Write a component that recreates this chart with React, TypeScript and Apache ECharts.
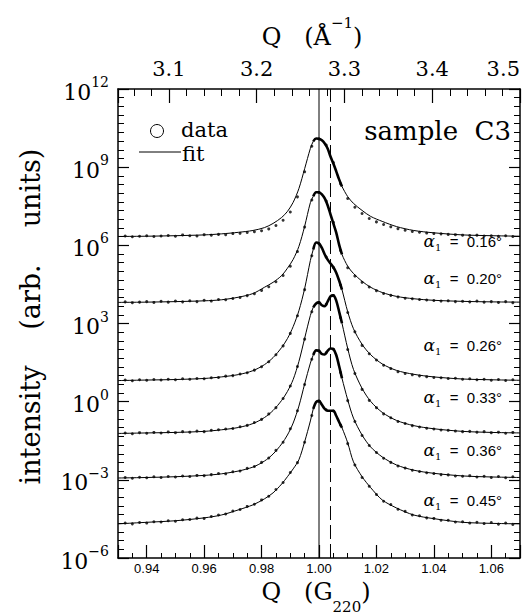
import React, { useEffect, useRef } from "react";
import * as echarts from "echarts";

// Q in units of G220 (bottom axis) for the fit curves
const qFit = [0.930, 0.940, 0.950, 0.960, 0.966, 0.972, 0.977, 0.981, 0.984, 0.987, 0.989, 0.991, 0.993, 0.995, 0.997, 0.998, 0.999, 1.000, 1.001, 1.002, 1.003, 1.004, 1.005, 1.006, 1.007, 1.008, 1.010, 1.012, 1.015, 1.018, 1.022, 1.027, 1.033, 1.040, 1.050, 1.060, 1.070];

// fit curves, log10(intensity)
const fit016 = [6.34, 6.35, 6.37, 6.40, 6.44, 6.50, 6.57, 6.68, 6.84, 7.07, 7.30, 7.65, 8.18, 8.94, 9.72, 9.99, 10.10, 10.09, 10.03, 9.91, 9.72, 9.41, 9.14, 8.84, 8.53, 8.26, 7.87, 7.61, 7.34, 7.11, 6.92, 6.72, 6.57, 6.48, 6.40, 6.37, 6.35];
const fit020 = [3.81, 3.82, 3.84, 3.87, 3.91, 4.01, 4.15, 4.39, 4.58, 4.84, 5.12, 5.46, 5.96, 6.73, 7.64, 7.88, 8.04, 8.04, 7.96, 7.80, 7.54, 7.19, 6.84, 6.49, 6.03, 5.65, 5.20, 4.92, 4.62, 4.39, 4.19, 4.04, 3.95, 3.89, 3.85, 3.83, 3.82];
const fit026 = [0.81, 0.83, 0.85, 0.89, 0.95, 1.04, 1.19, 1.42, 1.69, 2.08, 2.42, 2.88, 3.49, 4.34, 5.42, 5.84, 6.11, 6.07, 5.90, 5.65, 5.45, 5.30, 5.16, 4.95, 4.65, 4.30, 3.45, 2.80, 2.20, 1.80, 1.45, 1.20, 1.05, 0.95, 0.87, 0.84, 0.82];
const fit033 = [-1.22, -1.20, -1.18, -1.14, -1.08, -0.99, -0.84, -0.61, -0.34, 0.05, 0.39, 0.85, 1.54, 2.43, 3.31, 3.62, 3.77, 3.81, 3.70, 3.66, 3.84, 4.04, 4.08, 3.88, 3.46, 3.01, 2.04, 1.24, 0.51, 0.01, -0.41, -0.72, -0.92, -1.04, -1.14, -1.18, -1.20];
const fit036 = [-2.93, -2.91, -2.88, -2.83, -2.77, -2.66, -2.51, -2.28, -2.01, -1.62, -1.28, -0.82, -0.17, 0.68, 1.48, 1.79, 1.97, 1.95, 1.83, 1.81, 1.95, 2.04, 2.02, 1.79, 1.37, 0.90, 0.07, -0.63, -1.28, -1.74, -2.12, -2.43, -2.63, -2.75, -2.85, -2.89, -2.91];
const fit045 = [-4.69, -4.63, -4.57, -4.46, -4.35, -4.15, -3.96, -3.73, -3.50, -3.16, -2.88, -2.58, -2.23, -1.54, -0.74, -0.28, -0.01, 0.03, -0.12, -0.28, -0.35, -0.35, -0.35, -0.54, -0.78, -1.00, -1.58, -2.31, -2.88, -3.30, -3.77, -4.08, -4.35, -4.49, -4.63, -4.67, -4.69];

// measured data points (Q in G220, log10 intensity)
const qData = [0.9325, 0.935, 0.9375, 0.940, 0.9425, 0.945, 0.9475, 0.950, 0.9525, 0.955, 0.9575, 0.960, 0.9625, 0.965, 0.9675, 0.970, 0.9725, 0.975, 0.9775, 0.980, 0.9825, 0.985, 0.9875, 0.990, 0.9925, 0.995, 0.9975, 1.000, 1.0025, 1.005, 1.0075, 1.010, 1.0125, 1.015, 1.0175, 1.020, 1.0225, 1.025, 1.0275, 1.030, 1.0325, 1.035, 1.0375, 1.040, 1.0425, 1.045, 1.0475, 1.050, 1.0525, 1.055, 1.0575, 1.060, 1.0625, 1.065, 1.0675];
const data016 = [6.36, 6.33, 6.35, 6.37, 6.34, 6.36, 6.38, 6.35, 6.40, 6.37, 6.36, 6.41, 6.39, 6.42, 6.41, 6.45, 6.46, 6.49, 6.52, 6.56, 6.63, 6.76, 6.96, 7.28, 7.86, 8.82, 9.80, 10.08, 9.85, 9.18, 8.36, 7.80, 7.46, 7.22, 7.03, 6.90, 6.80, 6.71, 6.64, 6.58, 6.53, 6.50, 6.47, 6.45, 6.44, 6.42, 6.41, 6.39, 6.38, 6.39, 6.36, 6.37, 6.35, 6.37, 6.34];
const data020 = [3.83, 3.80, 3.82, 3.84, 3.81, 3.85, 3.82, 3.86, 3.83, 3.87, 3.84, 3.89, 3.86, 3.92, 3.91, 3.96, 4.00, 4.07, 4.14, 4.27, 4.41, 4.60, 4.84, 5.20, 5.76, 6.70, 7.74, 8.03, 7.70, 6.88, 5.80, 5.14, 4.82, 4.58, 4.40, 4.26, 4.15, 4.08, 4.02, 3.97, 3.95, 3.92, 3.90, 3.88, 3.86, 3.87, 3.84, 3.85, 3.83, 3.86, 3.82, 3.84, 3.81, 3.84, 3.80];
const data026 = [0.83, 0.80, 0.84, 0.82, 0.85, 0.83, 0.86, 0.84, 0.88, 0.86, 0.89, 0.88, 0.92, 0.93, 0.98, 1.00, 1.06, 1.11, 1.21, 1.34, 1.53, 1.80, 2.14, 2.62, 3.30, 4.30, 5.60, 6.06, 5.55, 5.15, 4.48, 3.42, 2.68, 2.16, 1.84, 1.60, 1.40, 1.27, 1.15, 1.08, 1.03, 0.99, 0.96, 0.93, 0.92, 0.89, 0.90, 0.86, 0.88, 0.84, 0.86, 0.82, 0.85, 0.81, 0.84];
const data033 = [-1.20, -1.23, -1.19, -1.21, -1.18, -1.20, -1.16, -1.19, -1.15, -1.17, -1.13, -1.15, -1.10, -1.08, -1.05, -1.03, -0.96, -0.91, -0.80, -0.68, -0.47, -0.23, 0.12, 0.60, 1.35, 2.40, 3.45, 3.80, 3.74, 4.07, 3.22, 2.00, 1.08, 0.47, 0.05, -0.23, -0.47, -0.62, -0.76, -0.84, -0.92, -0.97, -1.02, -1.05, -1.09, -1.10, -1.13, -1.15, -1.14, -1.17, -1.15, -1.19, -1.17, -1.21, -1.18];
const data036 = [-2.91, -2.94, -2.90, -2.92, -2.88, -2.91, -2.87, -2.89, -2.85, -2.87, -2.83, -2.84, -2.80, -2.76, -2.77, -2.69, -2.66, -2.56, -2.49, -2.33, -2.16, -1.87, -1.56, -1.04, -0.35, 0.66, 1.63, 1.95, 1.88, 2.01, 1.12, 0.04, -0.76, -1.30, -1.68, -1.95, -2.17, -2.33, -2.47, -2.55, -2.63, -2.68, -2.73, -2.76, -2.80, -2.81, -2.85, -2.86, -2.84, -2.89, -2.86, -2.91, -2.87, -2.92, -2.88];
const data045 = [-4.66, -4.69, -4.64, -4.66, -4.61, -4.62, -4.57, -4.59, -4.53, -4.52, -4.47, -4.48, -4.41, -4.35, -4.31, -4.20, -4.14, -4.02, -3.94, -3.77, -3.63, -3.37, -3.10, -2.72, -2.34, -1.56, -0.53, 0.02, -0.31, -0.36, -0.90, -1.61, -2.43, -2.91, -3.25, -3.56, -3.82, -3.95, -4.13, -4.21, -4.35, -4.38, -4.46, -4.48, -4.55, -4.55, -4.62, -4.61, -4.66, -4.63, -4.68, -4.64, -4.70, -4.66, -4.71];

const fits = [fit016, fit020, fit026, fit033, fit036, fit045];
const datas = [data016, data020, data026, data033, data036, data045];
const alphaValues = ["0.16", "0.20", "0.26", "0.33", "0.36", "0.45"];
const yTitleWords = ["intensity", "(arb.", "units)"];

const qRange = [0.93, 1.07];
const logRange = [-6, 12];
const G220 = 3.271; // Å^-1 per G220
const refLines = [1.0, 1.004];

// layout
const alphaLabelY = [241, 278, 345, 397, 450, 500];
const yTitleWordY = [425, 297, 188];
const denseFrom = 15;
const denseTo = 26;

const SERIF = "DejaVu Serif";
const SANS = "Liberation Sans";

export default function App() {
  const ref = useRef<HTMLDivElement>(null);
  useEffect(() => {
    if (!ref.current) return;
    const chart = echarts.init(ref.current, null, { renderer: "svg" });
    const black = "#000";
    const series: any[] = [];
    fits.forEach((f, k) => {
      series.push({
        type: "line",
        data: qFit.map((q, i) => [q, f[i]]),
        showSymbol: false,
        smooth: 0.3,
        lineStyle: { color: black, width: 1 },
        z: 3,
      });
      series.push({
        type: "line",
        data: qFit.slice(denseFrom, denseTo).map((q, i) => [q, f[i + denseFrom]]),
        showSymbol: false,
        smooth: 0.3,
        lineStyle: { color: black, width: 2.6 },
        z: 4,
      });
      series.push({
        type: "scatter",
        data: qData.map((q, i) => [q, datas[k][i]]),
        symbol: "circle",
        symbolSize: 3,
        itemStyle: { color: black },
        z: 5,
      });
    });
    series.push({
      type: "line",
      data: [[refLines[0], logRange[0]], [refLines[0], logRange[1]]],
      showSymbol: false,
      lineStyle: { color: black, width: 1 },
      z: 2,
    });
    series.push({
      type: "line",
      data: [[refLines[1], logRange[0]], [refLines[1], logRange[1]]],
      showSymbol: false,
      lineStyle: { color: black, width: 1, type: [14, 5] },
      z: 2,
    });

    const yAxisBase = {
      type: "value",
      min: logRange[0],
      max: logRange[1],
      interval: 3,
      axisLine: { show: true, lineStyle: { color: black, width: 1.5 } },
      axisTick: { inside: true, length: 11, lineStyle: { color: black, width: 1.2 } },
      minorTick: { show: true, splitNumber: 9, length: 6, lineStyle: { color: black, width: 1 } },
      splitLine: { show: false },
    };

    chart.setOption({
      animation: false,
      backgroundColor: "#fff",
      grid: { left: 118, right: 7, top: 89, bottom: 56, containLabel: false },
      xAxis: [
        {
          type: "value",
          position: "bottom",
          min: qRange[0],
          max: qRange[1],
          splitNumber: 7,
          axisLine: { onZero: false, lineStyle: { color: black, width: 1.5 } },
          axisTick: { inside: true, length: 13, lineStyle: { color: black, width: 1.2 } },
          minorTick: { show: true, splitNumber: 4, length: 5, lineStyle: { color: black, width: 1 } },
          axisLabel: {
            showMinLabel: false,
            showMaxLabel: false,
            margin: 4,
            color: black,
            fontFamily: SANS,
            fontSize: 13,
            formatter: (v: number) => v.toFixed(2),
          },
          splitLine: { show: false },
        },
        {
          type: "value",
          position: "top",
          min: qRange[0] * G220,
          max: qRange[1] * G220,
          splitNumber: 5,
          axisLine: { onZero: false, lineStyle: { color: black, width: 1.5 } },
          axisTick: { inside: true, length: 14, lineStyle: { color: black, width: 1.2 } },
          minorTick: { show: true, splitNumber: 5, length: 7, lineStyle: { color: black, width: 1 } },
          axisLabel: {
            showMinLabel: false,
            alignMaxLabel: "right",
            margin: 10,
            color: black,
            fontFamily: SERIF,
            fontSize: 21,
            formatter: (v: number) => v.toFixed(1),
          },
          splitLine: { show: false },
        },
      ],
      yAxis: [
        {
          ...yAxisBase,
          position: "left",
          axisLabel: {
            margin: 9,
            color: black,
            formatter: (v: number) => `{m|10}{e|${v < 0 ? "\u2212" + Math.abs(v) : v}}`,
            rich: {
              m: { fontFamily: SERIF, fontSize: 22, color: black, lineHeight: 28, verticalAlign: "bottom" },
              e: { fontFamily: SERIF, fontSize: 14, color: black, lineHeight: 28, verticalAlign: "top" },
            },
          },
        },
        { ...yAxisBase, position: "right", axisLabel: { show: false } },
      ],
      series,
      graphic: [
        {
          type: "text",
          x: 312,
          y: 32,
          style: {
            text: "{t|Q   (Å}{s|\u22121}{t|)}",
            align: "center",
            verticalAlign: "middle",
            rich: {
              t: { fontFamily: SERIF, fontSize: 24, fill: black, lineHeight: 34, verticalAlign: "bottom" },
              s: { fontFamily: SERIF, fontSize: 15, fill: black, lineHeight: 34, verticalAlign: "top" },
            },
          },
        },
        {
          type: "text",
          x: 316,
          y: 597,
          style: {
            text: "{t|Q   (G}{b|220}{t|)}",
            align: "center",
            verticalAlign: "middle",
            rich: {
              t: { fontFamily: SERIF, fontSize: 24, fill: black, lineHeight: 34, verticalAlign: "top" },
              b: { fontFamily: SERIF, fontSize: 15, fill: black, lineHeight: 34, verticalAlign: "bottom" },
            },
          },
        },
        ...yTitleWords.map((w, i) => ({
          type: "text",
          x: 30,
          y: yTitleWordY[i],
          rotation: Math.PI / 2,
          style: {
            text: w,
            align: "center",
            verticalAlign: "middle",
            fontFamily: SERIF,
            fontSize: 27,
            fill: black,
          },
        })),
        { type: "circle", shape: { cx: 157, cy: 131, r: 6.5 }, style: { fill: "none", stroke: black, lineWidth: 1 } },
        { type: "text", x: 181, y: 130, style: { text: "data", fontFamily: SERIF, fontSize: 21, fill: black, verticalAlign: "middle" } },
        { type: "line", shape: { x1: 139, y1: 152, x2: 181, y2: 152 }, style: { stroke: black, lineWidth: 1 } },
        { type: "text", x: 182, y: 154, style: { text: "fit", fontFamily: SERIF, fontSize: 21, fill: black, verticalAlign: "middle" } },
        { type: "text", x: 511, y: 131, style: { text: "sample  C3", fontFamily: SERIF, fontSize: 26, fill: black, align: "right", verticalAlign: "middle" } },
        ...alphaValues.map((a, i) => ({
          type: "text",
          x: 502,
          y: alphaLabelY[i],
          style: {
            text: `{g|α}{s|1}{t|  =  ${a}°}`,
            align: "right",
            verticalAlign: "middle",
            rich: {
              g: { fontFamily: SERIF, fontStyle: "italic", fontSize: 17, fill: black, lineHeight: 22, verticalAlign: "middle" },
              s: { fontFamily: SERIF, fontSize: 10, fill: black, lineHeight: 22, verticalAlign: "bottom" },
              t: { fontFamily: SANS, fontSize: 15, fill: black, lineHeight: 22, verticalAlign: "middle" },
            },
          },
        })),
      ],
    });
    return () => chart.dispose();
  }, []);
  return (
    <div
      ref={ref}
      style={{ position: "fixed", left: 0, top: 0, width: 527, height: 614, background: "#fff" }}
    />
  );
}
